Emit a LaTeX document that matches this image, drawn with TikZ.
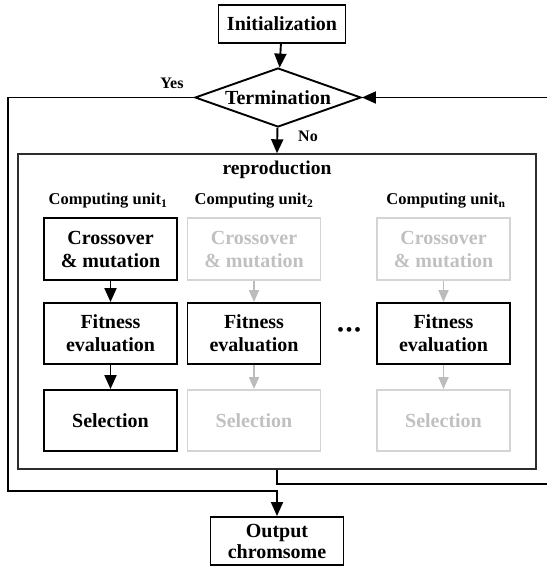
\documentclass[tikz,border=0pt]{standalone}
\usepackage{fontspec}
\setmainfont{Liberation Serif}
\usetikzlibrary{arrows.meta,shapes.geometric}

\definecolor{faintline}{RGB}{212,212,212}
\definecolor{fainttext}{RGB}{192,192,192}
\definecolor{faintarrow}{RGB}{188,188,188}
\definecolor{framegray}{RGB}{45,45,45}

\begin{document}
\begin{tikzpicture}[x=1pt,y=-1pt,
  stepbox/.style={draw=black, line width=1.9pt, minimum width=133pt, minimum height=61pt,
    inner sep=0pt, align=center, font=\fontsize{20}{23}\selectfont\bfseries},
  ghostbox/.style={stepbox, draw=faintline, text=fainttext},
  endbox/.style={draw=black, line width=1.9pt, inner sep=0pt, align=center,
    font=\fontsize{20}{23}\selectfont\bfseries},
  decision/.style={draw=black, line width=1.9pt, shape=diamond, aspect=2.8,
    minimum width=166pt, minimum height=59pt, inner sep=0pt,
    font=\fontsize{20}{23}\selectfont\bfseries},
  unitlabel/.style={font=\fontsize{16.5}{18}\selectfont\bfseries, inner sep=0pt},
  branch/.style={font=\fontsize{16}{18}\selectfont\bfseries, inner sep=0pt},
  link/.style={draw=black, line width=1.9pt},
  flow/.style={link, -{Triangle[length=14pt,width=12pt]}},
  ghostflow/.style={draw=faintarrow, line width=1.9pt, -{Triangle[length=12pt,width=10pt]}}
]
\useasboundingbox (0,0) rectangle (547,567);

% main chain
\node[endbox, minimum width=127pt, minimum height=38pt] (init) at (282,24) {Initialization};
\node[decision] (term) at (278,97.5) {Termination};
\node[endbox, minimum width=133pt, minimum height=48pt] (out) at (277,541) {Output\\[-2pt]chromsome};

% reproduction frame
\node[draw=framegray, line width=1.4pt, minimum width=518pt, minimum height=315pt, inner sep=0pt]
  (repro) at (277,311.5) {};
\node[font=\fontsize{19.5}{22}\selectfont\bfseries, inner sep=0pt] (reptitle) at (277,170) {reproduction};

% computing units
\node[unitlabel] (u1) at (108,201) {Computing unit\textsubscript{1}};
\node[unitlabel] (u2) at (254,201) {Computing unit\textsubscript{2}};
\node[unitlabel] (un) at (446,201) {Computing unit\textsubscript{n}};

\node[stepbox, minimum height=62pt] (c1) at (110.5,249) {Crossover\\\& mutation};
\node[stepbox]  (f1) at (110.5,333.5) {Fitness\\evaluation};
\node[stepbox]  (s1) at (110.5,420.5) {Selection};

\node[ghostbox, minimum height=62pt] (c2) at (254,249) {Crossover\\\& mutation};
\node[stepbox]  (f2) at (254,333.5) {Fitness\\evaluation};
\node[ghostbox] (s2) at (254,420.5) {Selection};

\node[ghostbox, minimum height=62pt] (cn) at (443.5,249) {Crossover\\\& mutation};
\node[stepbox]  (fn) at (443.5,333.5) {Fitness\\evaluation};
\node[ghostbox] (sn) at (443.5,420.5) {Selection};

% ellipsis between the unit columns
\node[font=\fontsize{20}{20}\selectfont, inner sep=0pt] (dots) at (349,332)
  {\textbullet\kern1.5pt\textbullet\kern1.5pt\textbullet};

\draw[flow] (c1) -- (f1);
\draw[flow] (f1) -- (s1);
\draw[ghostflow] (c2) -- (f2);
\draw[ghostflow] (f2) -- (s2);
\draw[ghostflow] (cn) -- (fn);
\draw[ghostflow] (fn) -- (sn);

% control flow
\coordinate (yesturn) at (8,97.5);
\coordinate (yesdown) at (8,491);
\coordinate (loopout) at (547,484);
\coordinate (loopin) at (547,97.5);

\draw[flow] (init) -- (term);
\draw[flow] (term) -- (repro.north);
\node[branch] (nolabel) at (308,136) {No};
\draw[flow] (term.west) -- (yesturn) -- (yesdown) -| (out.north);
\node[branch] (yeslabel) at (172,83) {Yes};
\draw[link] (repro.south) |- (loopout);
\draw[flow] (loopin) -- (term.east);
\end{tikzpicture}
\end{document}
